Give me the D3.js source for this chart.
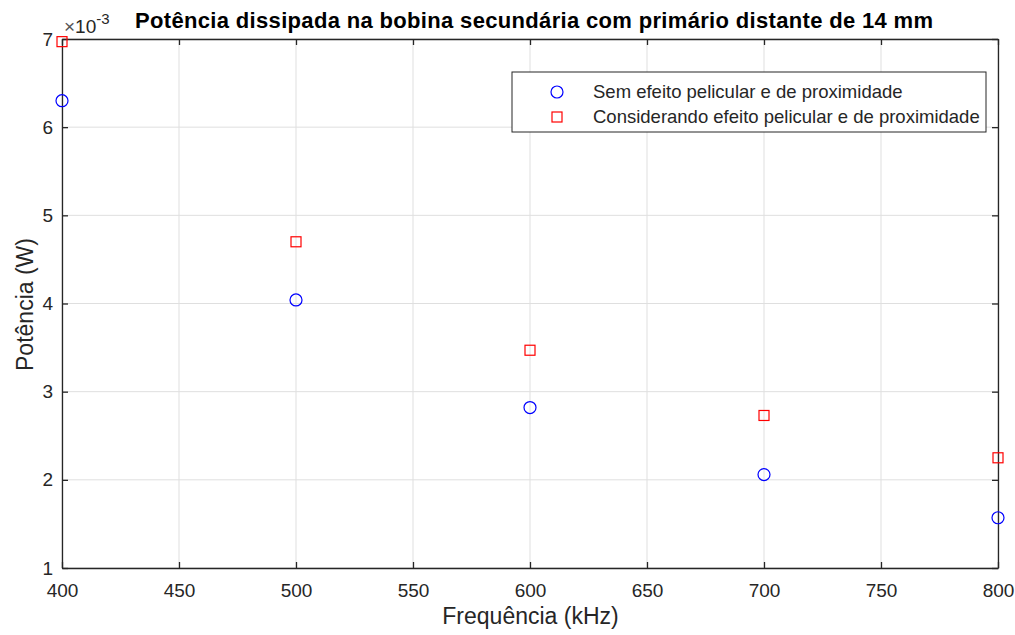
<!DOCTYPE html>
<html><head><meta charset="utf-8">
<script src="https://cdn.jsdelivr.net/npm/d3@7"></script>
<style>body{margin:0;background:#fff;} svg{display:block;}</style>
</head><body>
<script>
const frequencies = [400, 500, 600, 700, 800];
const semEfeito = [6.30, 4.04, 2.82, 2.06, 1.57];
const considerando = [6.97, 4.70, 3.47, 2.73, 2.25];
const xTicks = [400, 450, 500, 550, 600, 650, 700, 750, 800];
const yTicks = [1, 2, 3, 4, 5, 6, 7];
const seriesNames = ["Sem efeito pelicular e de proximidade", "Considerando efeito pelicular e de proximidade"];
const titleText = "Potência dissipada na bobina secundária com primário distante de 14 mm";

const W = 1015, H = 635;
const m = {left: 62, right: 17, top: 39, bottom: 67};
const pw = W - m.left - m.right, ph = H - m.top - m.bottom;
const font = "'Liberation Sans', Arial, Helvetica, sans-serif";
const axisCol = "#262626";

const svg = d3.select("body").append("svg").attr("width", W).attr("height", H);
const g = svg.append("g").attr("transform", `translate(${m.left},${m.top})`);
const x = d3.scaleLinear().domain([400, 800]).range([0, pw]);
const y = d3.scaleLinear().domain([1, 7]).range([ph, 0]);

// grid
g.append("g").selectAll("line").data(xTicks).join("line")
  .attr("x1", d => x(d)).attr("x2", d => x(d)).attr("y1", 0).attr("y2", ph)
  .attr("stroke", "#dfdfdf").attr("stroke-width", 1);
g.append("g").selectAll("line").data(yTicks).join("line")
  .attr("y1", d => y(d)).attr("y2", d => y(d)).attr("x1", 0).attr("x2", pw)
  .attr("stroke", "#dfdfdf").attr("stroke-width", 1);

// axes
const tl = 6;
const fmt = d3.format("d");
const xb = g.append("g").attr("transform", `translate(0,${ph})`)
  .call(d3.axisBottom(x).tickValues(xTicks).tickFormat(fmt).tickSizeInner(-tl).tickSizeOuter(0).tickPadding(16));
const xt = g.append("g")
  .call(d3.axisTop(x).tickValues(xTicks).tickSizeInner(-tl).tickSizeOuter(0).tickFormat(""));
const yl = g.append("g")
  .call(d3.axisLeft(y).tickValues(yTicks).tickFormat(fmt).tickSizeInner(-tl).tickSizeOuter(0).tickPadding(9));
const yr = g.append("g").attr("transform", `translate(${pw},0)`)
  .call(d3.axisRight(y).tickValues(yTicks).tickSizeInner(-tl).tickSizeOuter(0).tickFormat(""));
[xb, xt, yl, yr].forEach(a => {
  a.selectAll("path").attr("stroke", axisCol).attr("stroke-width", 1.3);
  a.selectAll("line").attr("stroke", axisCol).attr("stroke-width", 1.3);
  a.selectAll("text").attr("fill", axisCol).style("font-family", font).style("font-size", "19px");
});

// exponent
const ex = g.append("text").attr("x", 2).attr("y", -6).attr("fill", axisCol)
  .style("font-family", font).style("font-size", "19px");
ex.append("tspan").attr("fill", "#555").text("×");
ex.append("tspan").text("10");
ex.append("tspan").attr("dy", -9).style("font-size", "15px").text("-3");

// title
svg.append("text").attr("x", 534).attr("y", 28).attr("text-anchor", "middle")
  .attr("textLength", 798).attr("lengthAdjust", "spacing")
  .style("font-family", font).style("font-size", "22px").style("font-weight", "bold").attr("fill", "#000")
  .text(titleText);
// axis labels
svg.append("text").attr("x", 530.5).attr("y", 624).attr("text-anchor", "middle")
  .style("font-family", font).style("font-size", "23px").attr("fill", axisCol).text("Frequência (kHz)");
svg.append("text").attr("transform", `translate(33,304.5) rotate(-90)`).attr("text-anchor", "middle")
  .style("font-family", font).style("font-size", "23px").attr("fill", axisCol).text("Potência (W)");

// data
const fv = frequencies.map((f, i) => ({f, a: semEfeito[i], b: considerando[i]}));
g.append("g").selectAll("circle").data(fv).join("circle")
  .attr("cx", d => x(d.f)).attr("cy", d => y(d.a)).attr("r", 6)
  .attr("fill", "none").attr("stroke", "#0000ff").attr("stroke-width", 1.2);
const s = 10;
g.append("g").selectAll("rect").data(fv).join("rect")
  .attr("x", d => x(d.f) - s / 2).attr("y", d => y(d.b) - s / 2).attr("width", s).attr("height", s)
  .attr("fill", "none").attr("stroke", "#ff0000").attr("stroke-width", 1.2);

// legend
const lg = svg.append("g").attr("transform", "translate(512,72)");
lg.append("rect").attr("x", 0).attr("y", 0).attr("width", 474).attr("height", 60)
  .attr("fill", "#fff").attr("stroke", axisCol).attr("stroke-width", 1);
lg.append("circle").attr("cx", 45).attr("cy", 20).attr("r", 6)
  .attr("fill", "none").attr("stroke", "#0000ff").attr("stroke-width", 1.2);
lg.append("rect").attr("x", 45 - 5).attr("y", 45 - 5).attr("width", 10).attr("height", 10)
  .attr("fill", "none").attr("stroke", "#ff0000").attr("stroke-width", 1.2);
seriesNames.forEach((n, i) => {
  lg.append("text").attr("x", 81).attr("y", 20 + i * 25).attr("dy", "0.35em")
    .style("font-family", font).style("font-size", "18.5px").attr("fill", axisCol).text(n);
});
</script>
</body></html>
